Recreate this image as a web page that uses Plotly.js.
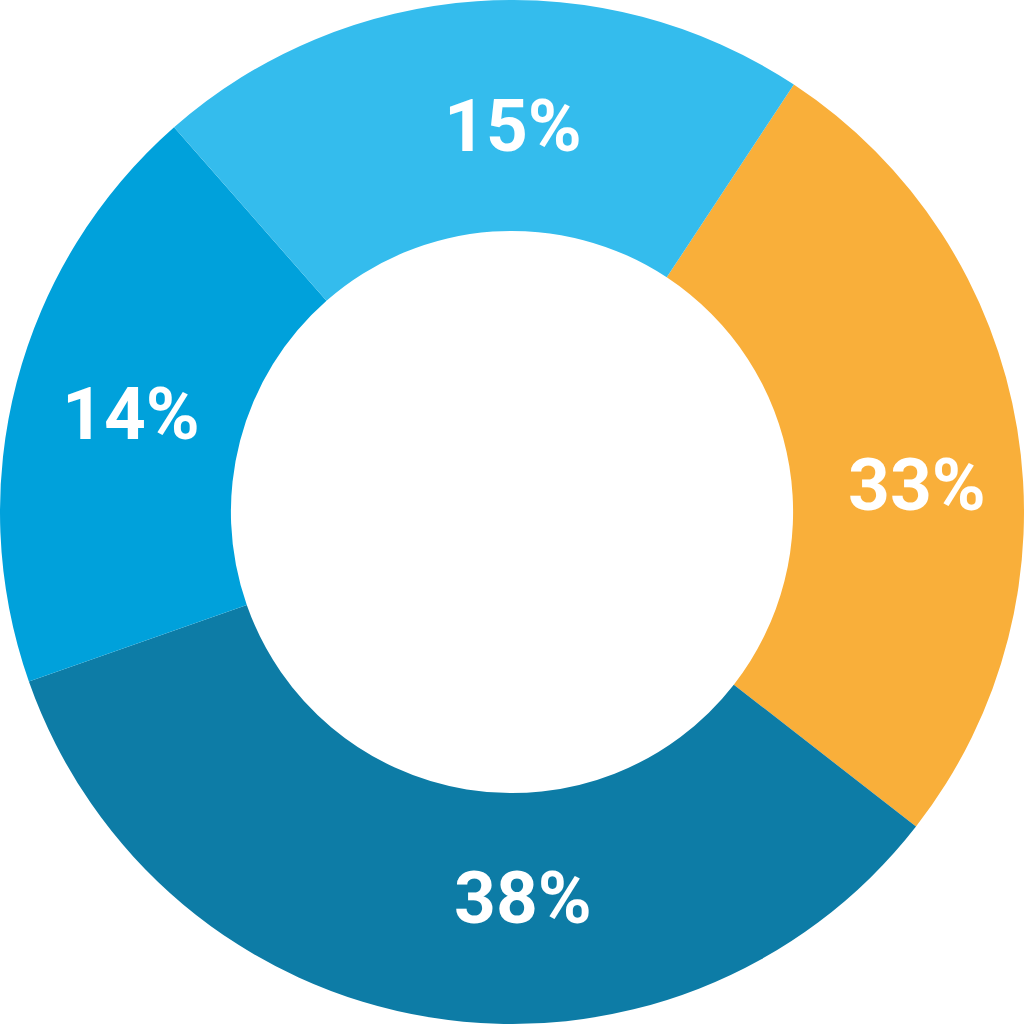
<!DOCTYPE html>
<html>
<head>
<meta charset="utf-8">
<script src="https://cdn.plot.ly/plotly-3.0.1.min.js"></script>
<style>
  html, body { margin: 0; padding: 0; background: #ffffff; }
  #chart { width: 1024px; height: 1024px; }
</style>
</head>
<body>
<div id="chart"></div>
<script>
// Slice order, clockwise starting at the orange slice
const categories = ["A", "B", "C", "D"];
// Printed labels (as shown on the chart)
const labelPercents = [33, 38, 14, 15];
// Angular share of each slice as drawn (in %)
const sliceShares = [26.25, 34.1, 18.9, 20.75];
const colors = ["#F9AF3A", "#0D7CA6", "#00A1DB", "#34BCED"];

const labelText = labelPercents.map(v => v + "%");

const trace = {
  type: "pie",
  labels: categories,
  values: sliceShares,
  sort: false,
  direction: "clockwise",
  rotation: 33.4,
  hole: 0.549,
  marker: { colors: colors, line: { width: 0 } },
  textinfo: "none",
  hoverinfo: "none",
  showlegend: false,
  domain: { x: [0, 1], y: [0, 1] }
};

const labelFont = { family: "Roboto, 'Open Sans', sans-serif", size: 73, color: "#ffffff", weight: 700 };
const labelPos = [
  { x: 0.8955, y: 0.5264 },
  { x: 0.5107, y: 0.1230 },
  { x: 0.1279, y: 0.5957 },
  { x: 0.5010, y: 0.8770 }
];
const annotations = labelText.map((t, i) => ({
  text: t,
  xref: "paper", yref: "paper",
  x: labelPos[i].x, y: labelPos[i].y,
  xanchor: "center", yanchor: "middle",
  showarrow: false,
  font: labelFont
}));

const layout = {
  width: 1024,
  height: 1024,
  margin: { l: 0, r: 0, t: 0, b: 0, pad: 0 },
  paper_bgcolor: "#ffffff",
  plot_bgcolor: "#ffffff",
  showlegend: false,
  annotations: annotations
};

Plotly.newPlot("chart", [trace], layout, { displayModeBar: false, staticPlot: true });
</script>
</body>
</html>
